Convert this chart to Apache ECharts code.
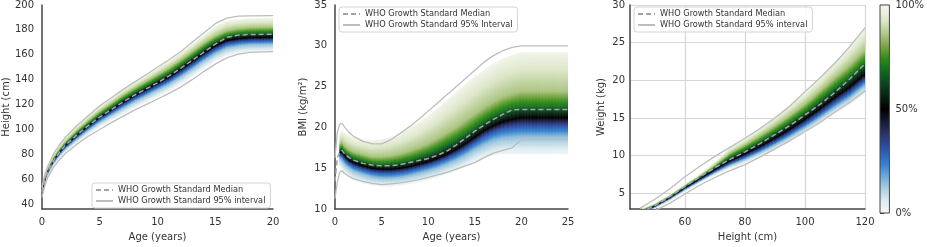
<!DOCTYPE html>
<html><head><meta charset="utf-8">
<script src="https://cdn.jsdelivr.net/npm/echarts@6/dist/echarts.min.js"></script>
<style>html,body{margin:0;padding:0;background:#fff}#c{width:927px;height:247px}</style>
</head><body><div id="c"></div>
<script>
// ---------- Panel 1: Height vs Age ----------
const ageH = [0, 0.25, 0.5, 1, 1.5, 2, 3, 4, 5, 6, 7, 8, 9, 10, 11, 12, 13, 14, 15, 16, 17, 18, 20];
const whoHeightMedian = [49.5, 59.5, 66, 75, 81.5, 87, 95.5, 103, 110, 116, 122, 127.5, 132.5, 137.5, 143, 149, 155.5, 162, 168.5, 174, 175.8, 176.3, 176.5];
const whoHeightHigh = [53.5, 64, 70.5, 80.5, 87.5, 93.5, 103, 111, 119, 125.5, 132, 138, 144, 150, 156, 162.5, 170, 177.5, 185, 189.5, 191, 191.3, 191.4];
const whoHeightLow = [45.5, 55, 61.5, 69.5, 75.5, 80.5, 88, 94.5, 100, 105.5, 110.5, 115.5, 120, 124.5, 129, 134, 140, 146.5, 152.5, 157.5, 160.5, 162, 162.5];
const heightQ02 = [46.5, 56, 62.5, 70.5, 76.5, 81.5, 89, 96, 102, 107.5, 112.5, 117.5, 122, 126.5, 131, 136.5, 142.5, 149, 155, 159.5, 161.5, 162.5, 163];
const heightQ15 = [47.8, 57.5, 64, 72.5, 78.8, 84, 92, 99.3, 105.8, 111.5, 117, 122.3, 127, 131.8, 136.5, 142.3, 148.5, 155, 161, 165.5, 167.3, 168.2, 168.7];
const heightQ30 = [48.5, 58.3, 64.8, 73.6, 80, 85.3, 93.6, 101, 107.8, 113.6, 119.4, 124.8, 129.6, 134.5, 139.3, 145.2, 151.6, 158.1, 164.2, 168.7, 170.3, 171.1, 171.5];
const heightQ50 = [49, 59, 65.5, 74.5, 81, 86.5, 95, 102.5, 109.5, 115.5, 121.5, 127, 132, 137, 142, 148, 154.5, 161, 167, 171.5, 173, 173.8, 174.2];
const heightQ70 = [49.6, 59.8, 66.4, 75.6, 82.2, 87.8, 96.6, 104.3, 111.5, 117.7, 124, 129.6, 134.8, 140, 145.2, 151.5, 158, 164.8, 170.8, 175.2, 176.8, 177.6, 178];
const heightQ85 = [50.4, 60.8, 67.5, 77, 83.8, 89.6, 98.8, 106.8, 114.3, 120.8, 127.2, 133, 138.4, 143.8, 149.2, 155.6, 162.2, 169, 175, 179.3, 181, 181.8, 182.2];
const heightQ98 = [52.5, 63, 70, 80, 87, 93, 102.5, 110.8, 118.5, 125, 131.5, 137.5, 143.3, 149, 155, 161.5, 168.5, 175.5, 182.5, 187, 188.5, 189, 189.5];
const heightTicks = [40, 60, 80, 100, 120, 140, 160, 180, 200];

// ---------- Panel 2: BMI vs Age ----------
const ageB = [0, 0.25, 0.5, 0.75, 1, 1.5, 2, 3, 4, 5, 6, 7, 8, 9, 10, 11, 12, 13, 14, 15, 16, 17, 18, 19, 20, 25];
const whoBmiMedian = [13.4, 16.3, 17.0, 17.2, 16.8, 16.3, 16.0, 15.6, 15.4, 15.3, 15.3, 15.45, 15.7, 15.95, 16.2, 16.6, 17.1, 17.85, 18.7, 19.55, 20.3, 21.0, 21.6, 22.15, 22.2, 22.2];
const whoBmiHigh = [16.3, 19.4, 20.4, 20.5, 20.1, 19.4, 18.9, 18.3, 18.0, 18.0, 18.5, 19.3, 20.1, 21.0, 22.0, 23.0, 24.0, 25.0, 26.0, 27.0, 28.0, 28.8, 29.4, 29.8, 30.0, 30.0];
const whoBmiLow = [11.3, 13.3, 14.5, 14.7, 14.4, 14.0, 13.7, 13.4, 13.15, 13.0, 13.1, 13.2, 13.4, 13.6, 13.9, 14.2, 14.5, 14.9, 15.3, 15.7, 16.3, 16.85, 17.2, 17.5, 18.5, 18.5];
const bmiQ02 = [null, null, 15.3, 15.0, 14.5, 14.0, 13.6, 13.2, 12.9, 12.8, 12.8, 12.9, 13.1, 13.3, 13.6, 13.9, 14.3, 14.7, 15.2, 15.8, 16.3, 16.6, 16.8, 16.8, 16.8, 16.8];
const bmiQ15 = [null, null, 16.2, 16.1, 15.6, 15.1, 14.7, 14.3, 13.95, 13.8, 13.8, 13.9, 14.1, 14.4, 14.7, 15.05, 15.5, 16.0, 16.6, 17.3, 17.9, 18.4, 18.7, 18.8, 18.9, 18.9];
const bmiQ30 = [null, null, 16.6, 16.6, 16.15, 15.6, 15.25, 14.85, 14.55, 14.4, 14.4, 14.5, 14.7, 15.0, 15.3, 15.7, 16.15, 16.7, 17.35, 18.1, 18.85, 19.4, 19.8, 20.0, 20.1, 20.1];
const bmiQ50 = [null, null, 16.9, 17.0, 16.6, 16.0, 15.7, 15.3, 15.0, 14.9, 14.9, 15.0, 15.2, 15.5, 15.8, 16.2, 16.7, 17.3, 18.0, 18.8, 19.6, 20.2, 20.7, 21.0, 21.2, 21.2];
const bmiQ70 = [null, null, 17.3, 17.5, 17.1, 16.6, 16.3, 15.9, 15.6, 15.5, 15.6, 15.75, 16.0, 16.4, 16.8, 17.3, 17.9, 18.5, 19.2, 20.0, 20.8, 21.5, 22.0, 22.4, 22.6, 22.6];
const bmiQ85 = [null, null, 17.9, 18.2, 17.8, 17.3, 17.0, 16.7, 16.4, 16.4, 16.5, 16.75, 17.1, 17.5, 18.0, 18.6, 19.3, 20.0, 20.8, 21.6, 22.4, 23.1, 23.7, 24.1, 24.4, 24.4];
const bmiQ98 = [null, null, 19.0, 19.6, 19.4, 19.0, 18.7, 18.5, 18.4, 18.5, 18.8, 19.3, 19.9, 20.6, 21.4, 22.3, 23.3, 24.3, 25.3, 26.2, 27.0, 27.8, 28.4, 28.8, 29.2, 29.2];

// ---------- Panel 3: Weight vs Height ----------
const htW = [45, 50, 55, 60, 65, 70, 75, 80, 85, 90, 95, 100, 105, 110, 115, 120];
const whoWeightMedian = [2.45, 3.35, 4.55, 5.9, 7.2, 8.4, 9.5, 10.5, 11.6, 12.8, 14.0, 15.4, 16.8, 18.4, 20.2, 22.2];
const whoWeightHigh = [3.0, 4.2, 5.6, 7.2, 8.6, 9.9, 11.1, 12.3, 13.6, 15.0, 16.6, 18.5, 20.3, 22.3, 24.5, 27.0];
const whoWeightLow = [1.9, 2.7, 3.7, 4.9, 6.1, 7.1, 8.0, 8.8, 9.8, 10.9, 12.0, 13.2, 14.4, 15.8, 17.1, 18.6];
const weightQ02 = [2.15, 2.95, 4.0, 5.25, 6.4, 7.4, 8.3, 9.0, 9.85, 10.8, 11.85, 13.0, 14.25, 15.6, 16.8, 18.3];
const weightQ15 = [2.3, 3.1, 4.2, 5.45, 6.6, 7.7, 8.7, 9.5, 10.4, 11.4, 12.5, 13.7, 15.0, 16.4, 17.7, 19.3];
const weightQ30 = [2.4, 3.2, 4.3, 5.58, 6.75, 7.9, 8.95, 9.8, 10.75, 11.8, 12.95, 14.2, 15.55, 17.0, 18.35, 20.0];
const weightQ50 = [2.5, 3.3, 4.4, 5.7, 6.9, 8.1, 9.3, 10.2, 11.2, 12.3, 13.5, 14.8, 16.2, 17.7, 19.1, 20.8];
const weightQ70 = [2.6, 3.4, 4.52, 5.85, 7.1, 8.4, 9.8, 10.8, 11.9, 13.1, 14.4, 15.8, 17.35, 19.0, 20.55, 22.4];
const weightQ85 = [2.7, 3.5, 4.65, 6.0, 7.3, 8.7, 10.3, 11.4, 12.6, 13.9, 15.3, 16.8, 18.5, 20.3, 22.0, 24.0];
const weightQ98 = [2.85, 3.65, 4.8, 6.2, 7.5, 9.1, 11.0, 12.2, 13.6, 15.1, 16.7, 18.4, 20.3, 22.4, 24.5, 27.0];
const weightXTicks = [60, 80, 100, 120];
const weightYTicks = [5, 10, 15, 20, 25, 30];

// ---------- Colour scale ----------
const quantileLevels = [0.02, 0.15, 0.30, 0.50, 0.70, 0.85, 0.98];
const colorbarTicks = [0, 50, 100];

const MED = 'WHO Growth Standard Median';
const CI = 'WHO Growth Standard 95% interval';
const CI2 = 'WHO Growth Standard 95% Interval';

const cmapPos = [0.00, 0.06, 0.12, 0.18, 0.23, 0.28, 0.33, 0.38, 0.44, 0.50, 0.56, 0.62, 0.68, 0.74, 0.80, 0.86, 0.92, 1.00];
const cmapCol = ['#f5fafa', '#dbecf0', '#abcfe3', '#6aa9da', '#3a84d2', '#2f66bb', '#31479a', '#2b3468', '#171a33', '#000000', '#07230f', '#0b4520', '#0f6a1e', '#2f8a15', '#78a445', '#b0c88a', '#dce6c8', '#f8faf5'];

function hex2rgb(h) { return [parseInt(h.substr(1,2),16), parseInt(h.substr(3,2),16), parseInt(h.substr(5,2),16)]; }
function cmapAt(v) {
  for (let i = 0; i < cmapPos.length - 1; i++) {
    if (v <= cmapPos[i+1]) {
      const t = (v - cmapPos[i]) / (cmapPos[i+1] - cmapPos[i]);
      const a = hex2rgb(cmapCol[i]), b = hex2rgb(cmapCol[i+1]);
      return 'rgb(' + a.map((c, k) => Math.round(c + (b[k]-c)*t)).join(',') + ')';
    }
  }
  return cmapCol[cmapCol.length-1];
}
function bandStops(a, b) {
  const s = [{offset: 0, color: cmapAt(a)}];
  cmapPos.forEach((p, i) => { if (p > a && p < b) s.push({offset: (p-a)/(b-a), color: cmapCol[i]}); });
  s.push({offset: 1, color: cmapAt(b)});
  return s;
}
const bandStopList = [];
for (let k = 0; k < quantileLevels.length - 1; k++) bandStopList.push(bandStops(quantileLevels[k], quantileLevels[k+1]));

function densitySeries(gi, xs, qs) {
  return {
    type: 'custom', xAxisIndex: gi, yAxisIndex: gi, z: 1, silent: true, animation: false,
    data: [[xs[0], 0]],
    renderItem: function (params, api) {
      const cs = params.coordSys;
      const children = [];
      for (let i = 0; i < xs.length - 1; i++) {
        if (qs.some(q => q[i] == null || q[i+1] == null)) continue;
        const A = qs.map(q => api.coord([xs[i], q[i]]));
        const B = qs.map(q => api.coord([xs[i+1], q[i+1]]));
        const w = B[0][0] - A[0][0];
        const n = Math.max(1, Math.ceil(w / 1.5));
        const yAt = (k, t) => A[k][1] + (B[k][1] - A[k][1]) * t;
        for (let j = 0; j < n; j++) {
          const t0 = j / n, t1 = (j + 1) / n, tm = (t0 + t1) / 2;
          const x0 = A[0][0] + w * t0, x1 = A[0][0] + w * t1, xm = (x0 + x1) / 2;
          for (let k = 0; k < qs.length - 1; k++) {
            let ya = yAt(k, tm), yb = yAt(k+1, tm);
            if (Math.abs(ya - yb) < 0.01) yb = ya - 0.01;
            const grad = {type: 'linear', x: xm, y: ya, x2: xm, y2: yb, global: true, colorStops: bandStopList[k]};
            children.push({
              type: 'polygon',
              shape: {points: [[x0, yAt(k, t0)], [x1, yAt(k, t1)], [x1, yAt(k+1, t1)], [x0, yAt(k+1, t0)]]},
              style: {fill: grad, stroke: grad, lineWidth: 0.7}
            });
          }
        }
      }
      return {type: 'group', children: children,
        clipPath: {type: 'rect', shape: {x: cs.x, y: cs.y, width: cs.width, height: cs.height}}};
    }
  };
}

function lineSeries(name, gi, xs, ys, dashed) {
  const ls = dashed ? {color: '#a3a3a3', width: 1.5, type: [5, 3]} : {color: '#bdbdbd', width: 1.3};
  return {type: 'line', name: name, xAxisIndex: gi, yAxisIndex: gi, z: 5, silent: true, animation: false,
    symbol: 'none', data: xs.map((x, i) => [x, ys[i]]), lineStyle: ls, itemStyle: {color: ls.color}};
}

const font = {fontFamily: 'DejaVu Sans', fontSize: 10, color: '#333'};
const axisLineStyle = {show: true, lineStyle: {color: '#444', width: 1.5}};

function legendCfg(names, left, top) {
  return {data: names, left: left, top: top, orient: 'vertical', itemWidth: 17, itemHeight: 9, itemGap: 3,
    padding: [3, 5, 3, 3], backgroundColor: 'rgba(255,255,255,0.85)', borderColor: '#d3d3d3', borderWidth: 1,
    borderRadius: 3, selectedMode: false, itemStyle: {opacity: 0},
    textStyle: {fontFamily: 'DejaVu Sans', fontSize: 8.2, color: '#333'}};
}

const option = {
  animation: false,
  backgroundColor: '#fff',
  grid: [
    {left: 42, top: 4, width: 231, height: 209},
    {left: 335, top: 4, width: 233, height: 207},
    {left: 630, top: 4, width: 235, height: 209},
    {left: 880, top: 4, width: 12, height: 209}
  ],
  legend: [legendCfg([MED, CI], 92, 183), legendCfg([MED, CI2], 339, 7), legendCfg([MED, CI], 634, 7)],
  xAxis: [
    {gridIndex: 0, type: 'value', min: 0, max: 20, interval: 5, name: 'Age (years)', nameLocation: 'middle', nameGap: 20,
      nameTextStyle: font, axisLine: axisLineStyle, axisTick: {show: false}, splitLine: {show: false}, axisLabel: Object.assign({margin: 8}, font)},
    {gridIndex: 1, type: 'value', min: 0, max: 25, interval: 5, name: 'Age (years)', nameLocation: 'middle', nameGap: 20,
      nameTextStyle: font, axisLine: axisLineStyle, axisTick: {show: false}, splitLine: {show: false}, axisLabel: Object.assign({margin: 8}, font)},
    {gridIndex: 2, type: 'value', min: 41.7, max: 120, name: 'Height (cm)', nameLocation: 'middle', nameGap: 20,
      nameTextStyle: font, axisLine: axisLineStyle, axisTick: {show: false, customValues: weightXTicks},
      splitLine: {show: true, lineStyle: {color: '#d6d6d6', width: 1.2}},
      axisLabel: Object.assign({margin: 8, customValues: weightXTicks}, font)},
    {gridIndex: 3, type: 'value', min: 0, max: 1, show: false}
  ],
  yAxis: [
    {gridIndex: 0, type: 'value', min: 36, max: 200, name: 'Height (cm)', nameLocation: 'middle', nameGap: 30, nameRotate: 90,
      nameTextStyle: font, axisLine: axisLineStyle, axisTick: {show: false, customValues: heightTicks}, splitLine: {show: false},
      axisLabel: Object.assign({margin: 8, customValues: heightTicks}, font)},
    {gridIndex: 1, type: 'value', min: 10, max: 35, interval: 5, name: 'BMI (kg/m²)', nameLocation: 'middle', nameGap: 27, nameRotate: 90,
      nameTextStyle: font, axisLine: axisLineStyle, axisTick: {show: false}, splitLine: {show: false},
      axisLabel: Object.assign({margin: 8}, font)},
    {gridIndex: 2, type: 'value', min: 2.9, max: 30, name: 'Weight (kg)', nameLocation: 'middle', nameGap: 24, nameRotate: 90,
      nameTextStyle: font, axisLine: axisLineStyle, axisTick: {show: false, customValues: weightYTicks},
      splitLine: {show: true, lineStyle: {color: '#d6d6d6', width: 1.2}},
      axisLabel: Object.assign({margin: 5, customValues: weightYTicks}, font)},
    {gridIndex: 3, type: 'value', min: 0, max: 100, interval: 50, position: 'right',
      axisLine: {show: false}, axisTick: {show: true, length: 4, lineStyle: {color: '#444', width: 1}, customValues: colorbarTicks},
      splitLine: {show: false}, axisLabel: Object.assign({margin: 6, formatter: '{value}%', customValues: colorbarTicks}, font)}
  ],
  series: [
    densitySeries(0, ageH, [heightQ02, heightQ15, heightQ30, heightQ50, heightQ70, heightQ85, heightQ98]),
    lineSeries(CI, 0, ageH, whoHeightHigh, false),
    lineSeries(CI, 0, ageH, whoHeightLow, false),
    lineSeries(MED, 0, ageH, whoHeightMedian, true),

    densitySeries(1, ageB, [bmiQ02, bmiQ15, bmiQ30, bmiQ50, bmiQ70, bmiQ85, bmiQ98]),
    lineSeries(CI2, 1, ageB, whoBmiHigh, false),
    lineSeries(CI2, 1, ageB, whoBmiLow, false),
    lineSeries(MED, 1, ageB, whoBmiMedian, true),

    densitySeries(2, htW, [weightQ02, weightQ15, weightQ30, weightQ50, weightQ70, weightQ85, weightQ98]),
    lineSeries(CI, 2, htW, whoWeightHigh, false),
    lineSeries(CI, 2, htW, whoWeightLow, false),
    lineSeries(MED, 2, htW, whoWeightMedian, true),

    {type: 'custom', xAxisIndex: 3, yAxisIndex: 3, silent: true, animation: false, data: [[0, 0]],
      renderItem: function (params, api) {
        const p0 = api.coord([0, 0]), p1 = api.coord([1, 100]);
        return {type: 'rect', shape: {x: p0[0], y: p1[1], width: p1[0] - p0[0], height: p0[1] - p1[1]},
          style: {fill: {type: 'linear', x: 0, y: 1, x2: 0, y2: 0, colorStops: cmapPos.map((p, i) => ({offset: p, color: cmapCol[i]}))},
            stroke: '#444', lineWidth: 1}};
      }}
  ]
};

const chart = echarts.init(document.getElementById('c'), null, {renderer: 'canvas'});
chart.setOption(option);
</script>
</body></html>
